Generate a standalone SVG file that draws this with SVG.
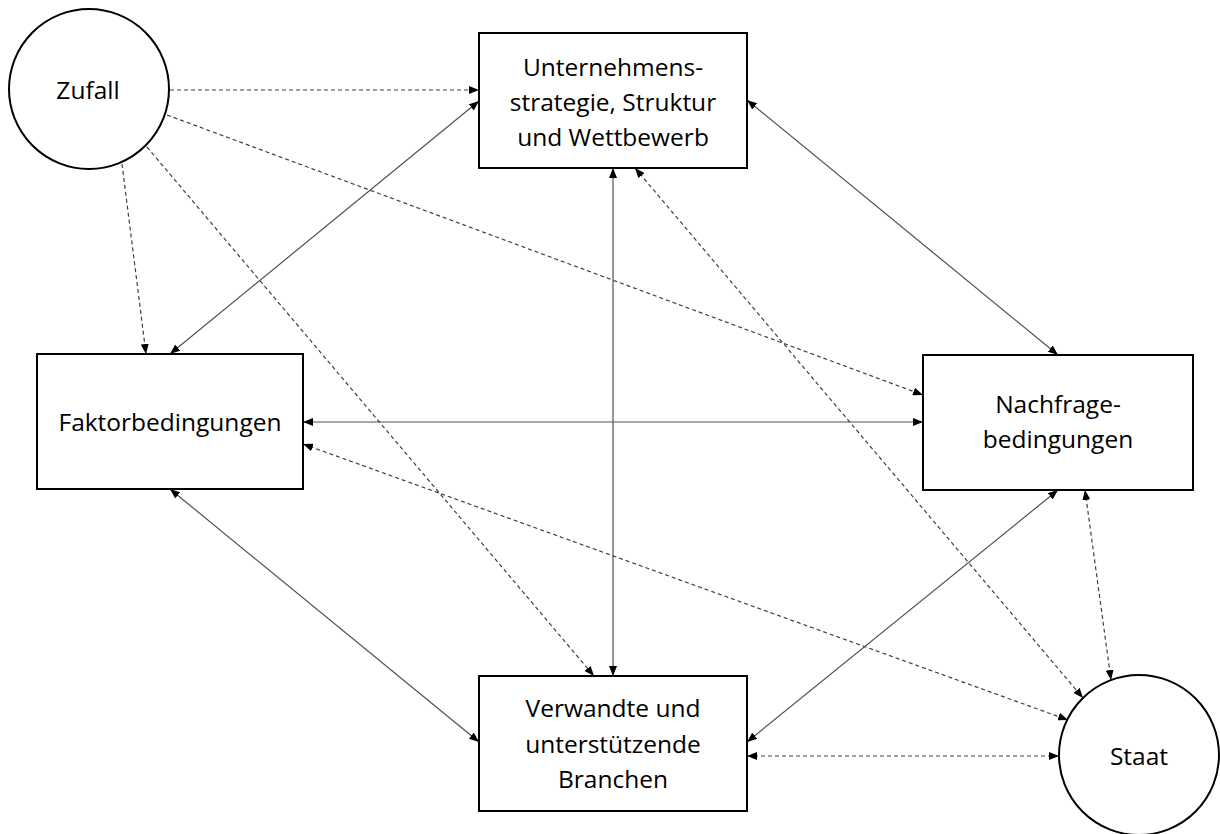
<svg xmlns="http://www.w3.org/2000/svg" width="1220" height="834" viewBox="0 0 1220 834">
<style>
.node{fill:#fff;stroke:#000;stroke-width:2}
.lbl{font-family:"Open Sans","Liberation Sans",sans-serif;font-size:24.5px;fill:#000;text-anchor:middle}
.solid{stroke:#505050;stroke-width:1.2;fill:none}
.dash{stroke:#404040;stroke-width:1.2;fill:none;stroke-dasharray:4 3}
</style>
<defs>
<marker id="ah" viewBox="0 0 10 8" refX="10" refY="4" markerWidth="10" markerHeight="8" markerUnits="userSpaceOnUse" orient="auto-start-reverse">
<path d="M0,0 L10,4 L0,8 Z" fill="#000"/>
</marker>
</defs>
<rect width="1220" height="834" fill="#fff"/>
<g id="connectors">
<line class="dash" x1="170" y1="90" x2="479" y2="90" marker-end="url(#ah)"/>
<line class="dash" x1="167" y1="115" x2="923" y2="395" marker-end="url(#ah)"/>
<line class="dash" x1="122" y1="164" x2="146" y2="354" marker-end="url(#ah)"/>
<line class="dash" x1="147" y1="147" x2="594" y2="676" marker-end="url(#ah)"/>
<line class="solid" x1="479" y1="101" x2="170" y2="354" marker-start="url(#ah)" marker-end="url(#ah)"/>
<line class="solid" x1="747" y1="100" x2="1058" y2="355" marker-start="url(#ah)" marker-end="url(#ah)"/>
<line class="solid" x1="613" y1="168" x2="613" y2="676" marker-start="url(#ah)" marker-end="url(#ah)"/>
<line class="dash" x1="635" y1="168" x2="1083" y2="698" marker-start="url(#ah)" marker-end="url(#ah)"/>
<line class="solid" x1="303" y1="422" x2="923" y2="422" marker-start="url(#ah)" marker-end="url(#ah)"/>
<line class="dash" x1="303" y1="444" x2="1068" y2="720" marker-start="url(#ah)" marker-end="url(#ah)"/>
<line class="solid" x1="170" y1="489" x2="479" y2="742" marker-start="url(#ah)" marker-end="url(#ah)"/>
<line class="solid" x1="1058" y1="490" x2="747" y2="742" marker-start="url(#ah)" marker-end="url(#ah)"/>
<line class="dash" x1="1085" y1="490" x2="1111" y2="680" marker-start="url(#ah)" marker-end="url(#ah)"/>
<line class="dash" x1="747" y1="756" x2="1059" y2="756" marker-start="url(#ah)" marker-end="url(#ah)"/>
</g>
<g id="zufall">
<circle class="node" cx="89" cy="89" r="80"/>
<text class="lbl" x="88" y="99">Zufall</text>
</g>
<g id="unternehmen">
<rect class="node" x="479" y="33" width="268" height="135"/>
<text class="lbl" x="613" y="76">Unternehmens-</text>
<text class="lbl" x="613" y="111">strategie, Struktur</text>
<text class="lbl" x="613" y="146">und Wettbewerb</text>
</g>
<g id="faktor">
<rect class="node" x="37" y="354" width="266" height="135"/>
<text class="lbl" x="170" y="431">Faktorbedingungen</text>
</g>
<g id="nachfrage">
<rect class="node" x="923" y="355" width="270" height="135"/>
<text class="lbl" x="1058" y="413">Nachfrage-</text>
<text class="lbl" x="1058" y="448">bedingungen</text>
</g>
<g id="verwandte">
<rect class="node" x="479" y="676" width="268" height="135"/>
<text class="lbl" x="613" y="717">Verwandte und</text>
<text class="lbl" x="613" y="753">unterstützende</text>
<text class="lbl" x="613" y="788">Branchen</text>
</g>
<g id="staat">
<circle class="node" cx="1139" cy="755" r="80"/>
<text class="lbl" x="1139" y="765">Staat</text>
</g>
</svg>
